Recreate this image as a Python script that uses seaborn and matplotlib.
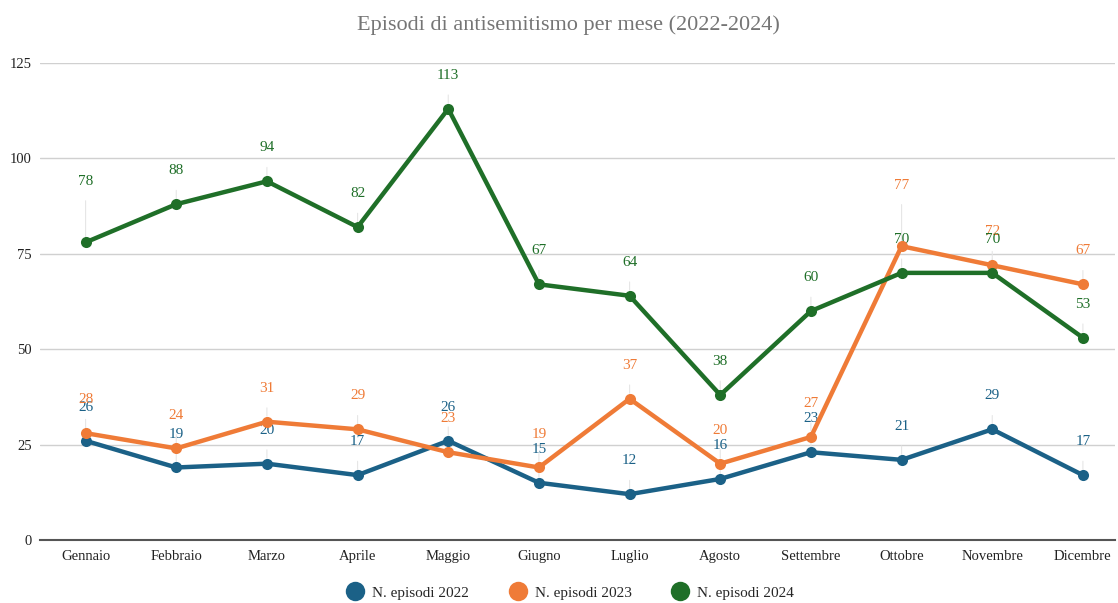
import pandas as pd
import seaborn as sns
from matplotlib import pyplot as plt
from matplotlib.lines import Line2D

mesi = ["Gennaio", "Febbraio", "Marzo", "Aprile", "Maggio", "Giugno",
        "Luglio", "Agosto", "Settembre", "Ottobre", "Novembre", "Dicembre"]
episodi_2022 = [26, 19, 20, 17, 26, 15, 12, 16, 23, 21, 29, 17]
episodi_2023 = [28, 24, 31, 29, 23, 19, 37, 20, 27, 77, 72, 67]
episodi_2024 = [78, 88, 94, 82, 113, 67, 64, 38, 60, 70, 70, 53]
serie = ["N. episodi 2022", "N. episodi 2023", "N. episodi 2024"]
colori = ["#1b6187", "#ef7b37", "#1f6f28"]

sns.set_theme(style="white")
plt.rcParams["font.family"] = ["Liberation Serif", "DejaVu Serif"]

rows = []
for nome, valori in zip(serie, [episodi_2022, episodi_2023, episodi_2024]):
    for i, v in enumerate(valori):
        rows.append({"idx": i, "mese": mesi[i], "valore": v, "serie": nome})
df = pd.DataFrame(rows)

fig = plt.figure(figsize=(11.18, 6.03), dpi=100)
ax = fig.add_axes([0.036, 0.1045, 0.961, 0.791])

# grid
for y in [25, 50, 75, 100, 125]:
    ax.axhline(y, color="#d0d0d0", lw=1, zorder=0)

sns.lineplot(data=df, x="idx", y="valore", hue="serie", palette=colori,
             marker="o", markersize=8, markeredgewidth=0, linewidth=3.2,
             legend=False, ax=ax, clip_on=False, zorder=3)

# data labels with leader lines (overlaps as in the original chart)
extra = {("N. episodi 2024", 0): 20, ("N. episodi 2023", 9): 20}
for nome, col in zip(serie, colori):
    sub = df[df["serie"] == nome]
    for _, r in sub.iterrows():
        off = 24 + extra.get((nome, r["idx"]), 0)
        ax.annotate(str(r["valore"]), (r["idx"], r["valore"]),
                    xytext=(0, off), textcoords="offset points",
                    ha="center", va="center", fontsize=11, color=col,
                    arrowprops=dict(arrowstyle="-", color="#e6e6e6", lw=0.8,
                                    shrinkA=7, shrinkB=4),
                    zorder=2)

ax.set_xlim(-0.5, 11.35)
ax.set_ylim(0, 125)
ax.set_yticks([0, 25, 50, 75, 100, 125])
ax.set_xticks(range(len(mesi)))
ax.set_xticklabels(mesi)
ax.tick_params(axis="both", labelsize=10.5, colors="#222222", length=0)
ax.tick_params(axis="x", pad=7)
ax.tick_params(axis="y", pad=6)
ax.set_xlabel("")
ax.set_ylabel("")
for s in ["top", "right", "left"]:
    ax.spines[s].set_visible(False)
ax.spines["bottom"].set_color("#555555")
ax.spines["bottom"].set_linewidth(1.5)

fig.suptitle("Episodi di antisemitismo per mese (2022-2024)", x=0.508, y=0.975,
             fontsize=16, color="#757575")

handles = [Line2D([0], [0], marker="o", color="w", markerfacecolor=c,
                  markersize=14, markeredgewidth=0) for c in colori]
fig.legend(handles, serie, loc="center", bbox_to_anchor=(0.51, 0.017),
           ncol=3, frameon=False, fontsize=11, handletextpad=0.5,
           columnspacing=2.6, handlelength=1.2)

fig.savefig("out.png", dpi=100)
